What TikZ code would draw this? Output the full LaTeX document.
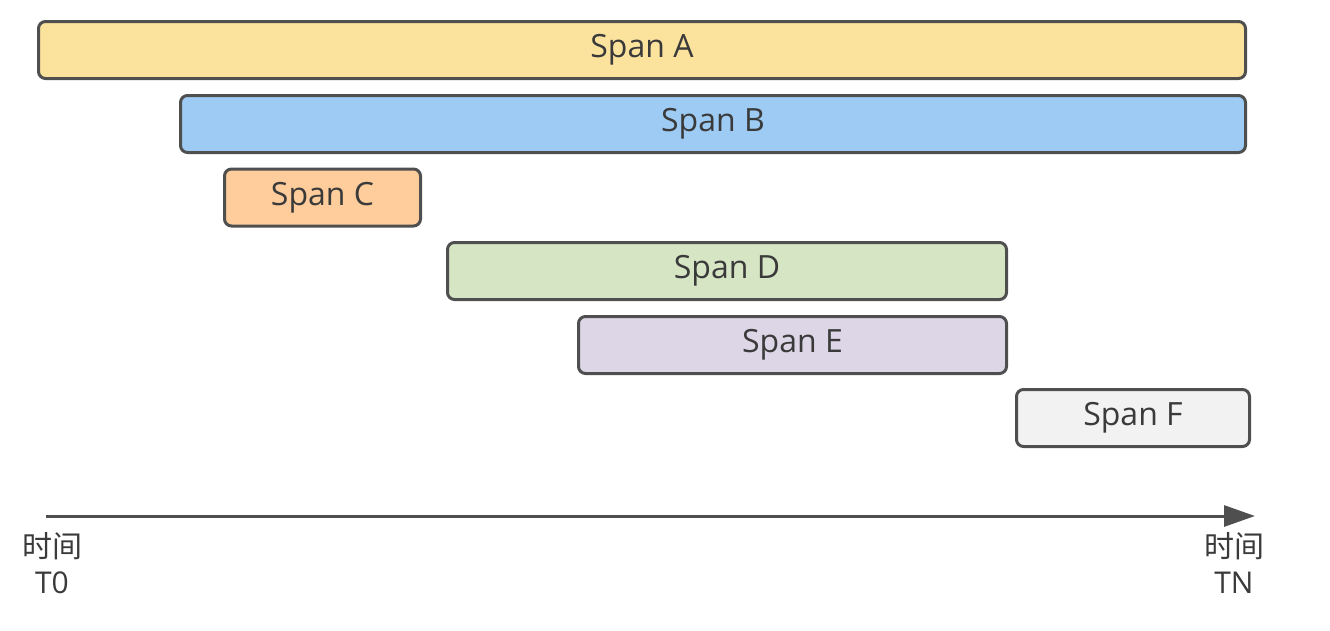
\documentclass[tikz,border=0pt]{standalone}
\usepackage{fontspec}
\setmainfont{Open Sans}
\newfontfamily\cjk{Noto Sans CJK SC}
\usetikzlibrary{arrows.meta}
\definecolor{bordc}{HTML}{4F4F4F}
\definecolor{txtc}{HTML}{3A3A3A}
\definecolor{fa}{HTML}{FBE29D}
\definecolor{fb}{HTML}{9DCBF3}
\definecolor{fc}{HTML}{FFCD9B}
\definecolor{fd}{HTML}{D6E5C4}
\definecolor{fe}{HTML}{DDD6E6}
\definecolor{ff}{HTML}{F2F2F2}
\tikzset{
  spanbox/.style={draw=bordc, line width=3pt, rounded corners=7pt, inner sep=0pt,
    minimum height=57pt, text=txtc, font=\fontsize{32}{36}\selectfont},
  axislbl/.style={align=center, text=txtc, inner sep=0pt, font=\fontsize{30}{36}\selectfont},
  axisline/.style={draw=bordc, line width=3pt, -{Triangle[length=31pt,width=21pt]}}
}
\begin{document}
\begin{tikzpicture}[x=1pt,y=-1pt]
\useasboundingbox (0,0) rectangle (1330,630);
\node[spanbox, fill=fa, minimum width=1207pt] (a) at (642,50) {Span A};
\node[spanbox, fill=fb, minimum width=1065pt] (b) at (713,124) {Span B};
\node[spanbox, fill=fc, minimum width=196pt] (c) at (322.5,197.5) {Span C};
\node[spanbox, fill=fd, minimum width=559pt] (d) at (727,271) {Span D};
\node[spanbox, fill=fe, minimum width=428pt] (e) at (792.5,345) {Span E};
\node[spanbox, fill=ff, minimum width=233pt] (f) at (1133,418) {Span F};
\coordinate (t0) at (46,516);
\coordinate (tn) at (1255,516);
\draw[axisline] (t0) -- (tn);
\node[axislbl] (l0) at (52,563) {{\cjk 时间}\\T0};
\node[axislbl] (ln) at (1234,563) {{\cjk 时间}\\TN};
\end{tikzpicture}
\end{document}
